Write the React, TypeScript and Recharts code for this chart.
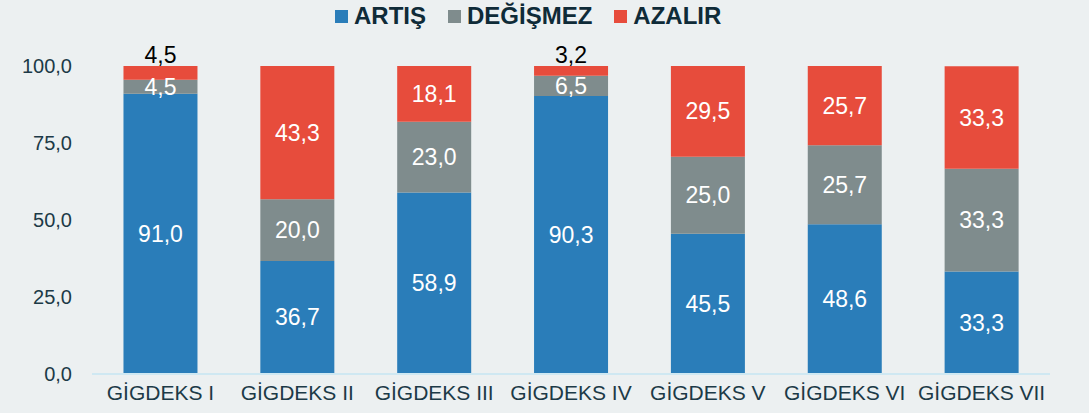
import { BarChart, Bar, XAxis, YAxis, LabelList } from 'recharts';

const categories = ['GİGDEKS I', 'GİGDEKS II', 'GİGDEKS III', 'GİGDEKS IV', 'GİGDEKS V', 'GİGDEKS VI', 'GİGDEKS VII'];
const artis = [91.0, 36.7, 58.9, 90.3, 45.5, 48.6, 33.3];
const degismez = [4.5, 20.0, 23.0, 6.5, 25.0, 25.7, 33.3];
const azalir = [4.5, 43.3, 18.1, 3.2, 29.5, 25.7, 33.3];
const yTicks = [0, 25, 50, 75, 100];

const series = [
  { key: 'artis', name: 'ARTIŞ', color: '#2a7db9' },
  { key: 'degismez', name: 'DEĞİŞMEZ', color: '#7f8c8d' },
  { key: 'azalir', name: 'AZALIR', color: '#e74c3c' },
];

const data = categories.map((name, i) => ({
  name,
  artis: artis[i],
  degismez: degismez[i],
  azalir: azalir[i],
}));

const fmt = (v: number) => v.toFixed(1).replace('.', ',');

const SegmentLabel = (props: any) => {
  const { x, y, width, height, value, outsideSmall } = props;
  if (outsideSmall && value < 5) {
    return (
      <text x={x + width / 2} y={y - 3} textAnchor="middle" fill="#000" fontSize={23}>
        {fmt(value)}
      </text>
    );
  }
  return (
    <text x={x + width / 2} y={y + height / 2} dy={8} textAnchor="middle" fill="#fff" fontSize={23}>
      {fmt(value)}
    </text>
  );
};

export default function App() {
  return (
    <div style={{ position: 'absolute', left: 0, top: 0, width: 1089, height: 413, background: '#ecf0f1', fontFamily: 'Arial, "Liberation Sans", sans-serif' }}>
      <div style={{ position: 'absolute', top: 0, left: 335, display: 'flex', gap: 22, fontWeight: 700, fontSize: 24, lineHeight: '32px', color: '#0f2b38' }}>
        {series.map((s) => (
          <div key={s.key} style={{ display: 'flex', alignItems: 'center', gap: 6 }}>
            <span style={{ width: 13, height: 13, background: s.color, display: 'inline-block' }} />
            <span>{s.name}</span>
          </div>
        ))}
      </div>
      <BarChart width={1089} height={413} data={data} margin={{ top: 66, right: 39, bottom: 0, left: 0 }} barCategoryGap="23%">
        <XAxis
          dataKey="name"
          height={39}
          axisLine={{ stroke: '#cfe8f2', strokeWidth: 2 }}
          tickLine={false}
          tick={{ fill: '#1c3a47', fontSize: 21 }}
          tickMargin={5}
          interval={0}
        />
        <YAxis
          width={92}
          domain={[0, 100]}
          ticks={yTicks}
          axisLine={false}
          tickLine={false}
          tickMargin={14}
          tick={{ fill: '#1c3a47', fontSize: 20 }}
          tickFormatter={fmt}
        />
        {series.map((s) => (
          <Bar key={s.key} dataKey={s.key} name={s.name} stackId="a" fill={s.color} isAnimationActive={false}>
            <LabelList dataKey={s.key} content={<SegmentLabel outsideSmall={s.key === 'azalir'} />} />
          </Bar>
        ))}
      </BarChart>
    </div>
  );
}
